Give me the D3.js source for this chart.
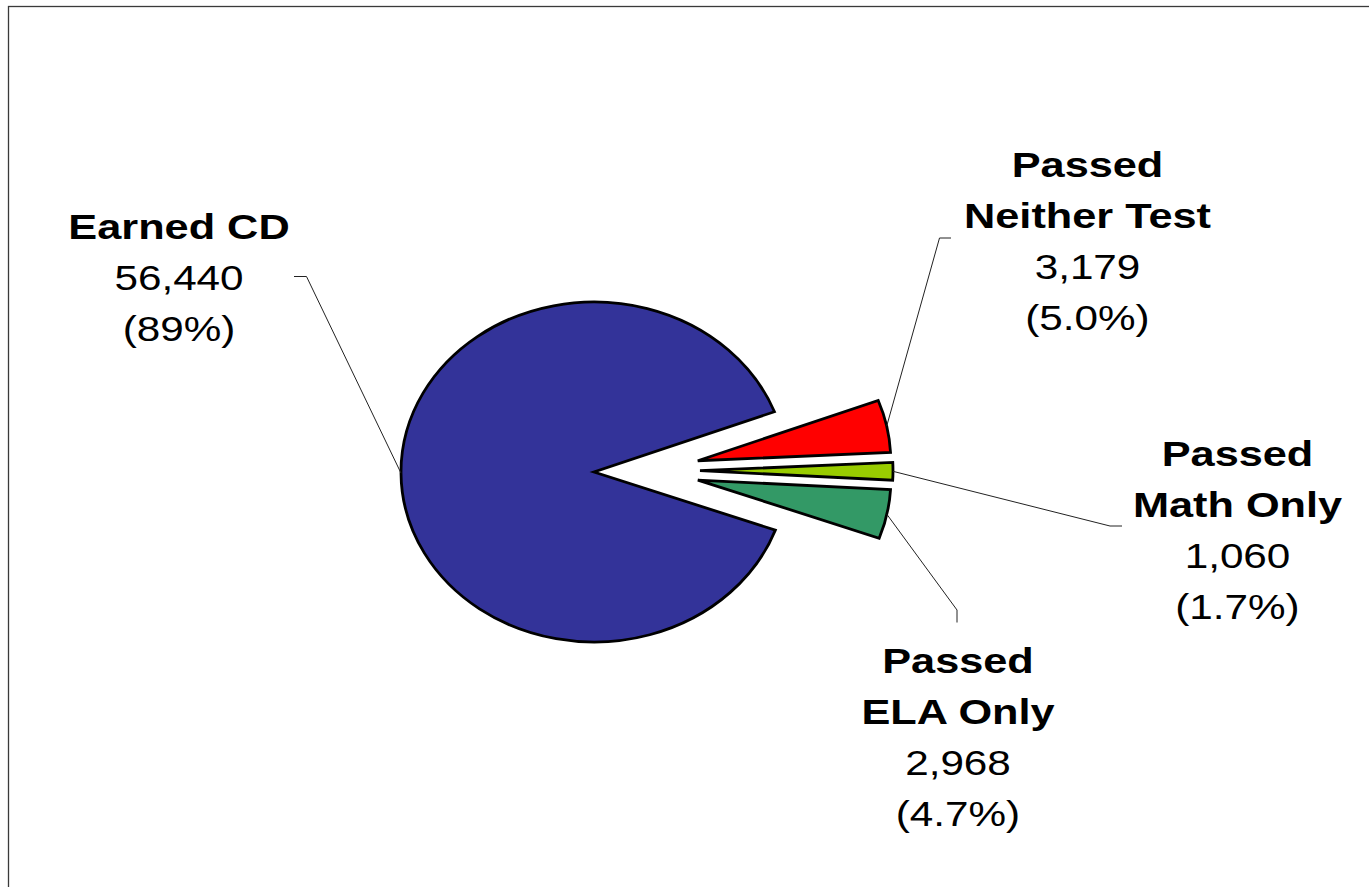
<!DOCTYPE html>
<html>
<head>
<meta charset="utf-8">
<script src="https://cdn.jsdelivr.net/npm/d3@7"></script>
<style>
  html, body { margin: 0; padding: 0; background: #ffffff; }
  svg { display: block; }
  text { font-family: "Liberation Sans", Arial, Helvetica, sans-serif; fill: #000; }
</style>
</head>
<body>
<svg id="chart" width="1369" height="887"></svg>
<script>
// ---- data ----
const categories = ["Earned CD", "Passed Neither Test", "Passed Math Only", "Passed ELA Only"];
const labelLines = [["Earned CD"], ["Passed", "Neither Test"], ["Passed", "Math Only"], ["Passed", "ELA Only"]];
const counts = [56440, 3179, 1060, 2968];
const percentLabels = ["(89%)", "(5.0%)", "(1.7%)", "(4.7%)"];
const colors = ["#333399", "#FF0000", "#99CC00", "#339966"];
const exploded = [false, true, true, true];

// ---- layout ----
const W = 1369, H = 887;
const cx = 594, cy = 472;
const rx = 193, ry = 170;
const explodeDist = 106;
const startDeg = 110;
const labelPos = [
  { x: 179,  y: 238.5, elbow: [306.5, 276.5], end: [294, 276.5] },
  { x: 1087.5, y: 176.5, elbow: [939.5, 238], end: [951, 238] },
  { x: 1237.5, y: 466, elbow: [1110, 526], end: [1122, 526] },
  { x: 958,  y: 672.5, elbow: [957, 610], end: [957, 622.5] }
];
const lineGap = 51;
const boldStretch = 1.22, regStretch = 1.19;

const svg = d3.select("#chart");
svg.append("rect").attr("x", 0).attr("y", 0).attr("width", W).attr("height", H).attr("fill", "#fff");
// chart area border (top & left visible)
svg.append("rect").attr("x", 8.5).attr("y", 6.5).attr("width", W + 50).attr("height", H + 50)
  .attr("fill", "none").attr("stroke", "#3a3a3a").attr("stroke-width", 1.3);

const data = categories.map((c, i) => ({ name: c, value: counts[i], color: colors[i], exploded: exploded[i], idx: i }));

const pie = d3.pie().sort(null).value(d => d.value)
  .startAngle(startDeg * Math.PI / 180)
  .endAngle(startDeg * Math.PI / 180 + 2 * Math.PI);
const arcs = pie(data);
const arc = d3.arc().innerRadius(0).outerRadius(rx);
const k = ry / rx;

function sliceOffset(a) {
  if (!a.data.exploded) return [0, 0];
  const mid = (a.startAngle + a.endAngle) / 2;
  return [explodeDist * Math.sin(mid), -explodeDist * Math.cos(mid) * 0.45 - 1.5];
}

const gPie = svg.append("g");
arcs.forEach(a => {
  const off = sliceOffset(a);
  gPie.append("g")
    .attr("transform", `translate(${cx + off[0]},${cy + off[1]}) scale(1,${k})`)
    .append("path")
    .attr("d", arc(a))
    .attr("fill", a.data.color)
    .attr("stroke", "#000")
    .attr("stroke-width", 2.8)
    .attr("stroke-linejoin", "miter")
    .attr("vector-effect", "non-scaling-stroke");
});

// leader lines from slice outer edge at mid-angle
arcs.forEach((a, i) => {
  const off = sliceOffset(a);
  const mid = (a.startAngle + a.endAngle) / 2;
  const sx = cx + off[0] + rx * Math.sin(mid);
  const sy = cy + off[1] - ry * Math.cos(mid);
  const L = labelPos[i];
  svg.append("path")
    .attr("d", d3.line()([[sx, sy], L.elbow, L.end]))
    .attr("fill", "none").attr("stroke", "#222").attr("stroke-width", 1);
});

// labels
arcs.forEach((a, i) => {
  const L = labelPos[i];
  const lines = labelLines[i];
  const g = svg.append("g").attr("transform", `translate(${L.x},0)`);
  let y = L.y;
  lines.forEach(t => {
    g.append("text").attr("transform", `translate(0,${y}) scale(${boldStretch},1)`)
      .attr("text-anchor", "middle").attr("font-size", 35.5).attr("font-weight", "bold").text(t);
    y += lineGap;
  });
  g.append("text").attr("transform", `translate(0,${y}) scale(${regStretch},1)`)
    .attr("text-anchor", "middle").attr("font-size", 35.5).text(d3.format(",")(a.data.value));
  y += lineGap;
  g.append("text").attr("transform", `translate(0,${y}) scale(${regStretch},1)`)
    .attr("text-anchor", "middle").attr("font-size", 35.5).text(percentLabels[i]);
});
</script>
</body>
</html>
